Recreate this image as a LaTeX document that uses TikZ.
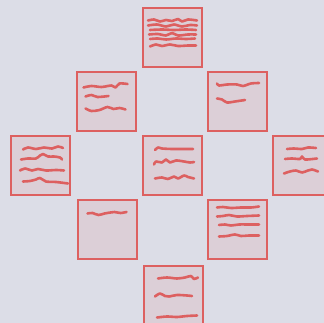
\documentclass[tikz,border=0pt]{standalone}
\usepackage{xcolor}
\usepackage{tikz}
\definecolor{bgpaper}{RGB}{220,221,231}
\definecolor{cardfill}{RGB}{220,207,215}
\definecolor{ink}{RGB}{221,96,96}
\tikzset{
  card/.style={draw=ink,fill=cardfill,line width=2pt,minimum size=59pt,inner sep=0pt},
  scribble/.style={draw=ink,line width=2.6pt,line cap=round,line join=round}
}
\begin{document}
\begin{tikzpicture}[x=1pt,y=-1pt]
\fill[bgpaper] (0,0) rectangle (324,323);
\useasboundingbox (0,0) rectangle (324,323);

\node[card] (top) at (172.5,38) {};
\node[card] (upl) at (106,102) {};
\node[card] (upr) at (237.5,102) {};
\node[card] (left) at (40.5,166) {};
\node[card] (mid) at (172.5,166) {};
\node[card] (right) at (302.5,166) {};
\node[card] (lowl) at (107,230) {};
\node[card] (lowr) at (237.5,230) {};
\node[card] (bottom) at (173.5,295) {};

% top
\scope[shift={(top.north west)}]
\draw[scribble] plot[smooth] coordinates {(6,13) (12,12) (18,14) (24,12.5) (30,13.5) (36,11.5) (40,14) (46,12) (55,13)};
\draw[scribble] plot[smooth] coordinates {(6,18) (15,17) (24,19) (32,17) (40,19) (48,17.5) (55,18)};
\draw[scribble] plot[smooth] coordinates {(8,22.5) (20,22) (32,22.5) (44,22) (54,22.5)};
\draw[scribble] plot[smooth] coordinates {(7,27) (16,26.5) (24,28) (30,25.5) (36,28) (46,27) (54,27)};
\draw[scribble] plot[smooth] coordinates {(8,31.5) (16,31) (24,32) (34,31) (44,31.5) (53,31)};
\draw[scribble] plot[smooth] coordinates {(8,39) (14,37) (20,38.5) (28,37) (36,38.5) (46,38) (54,38)};
\endscope

% upper left
\scope[shift={(upl.north west)}]
\draw[scribble] plot[smooth] coordinates {(8,16) (16,14.5) (26,15.5) (36,14) (40,16) (44,12) (52,12.5)};
\draw[scribble] plot[smooth] coordinates {(10,25) (16,23.5) (22,25.5) (33,24.5)};
\draw[scribble] plot[smooth] coordinates {(10,37) (16,39.5) (24,38.5) (32,35.5) (38,37.5) (44,36.5) (50,38)};
\endscope

% upper right
\scope[shift={(upr.north west)}]
\draw[scribble] plot[smooth] coordinates {(10,12) (12,14) (20,13) (30,13) (36,14.5) (44,12) (52,11.5)};
\draw[scribble] plot[smooth] coordinates {(10,27) (15,28) (20,31) (28,30) (38,28.5)};
\endscope

% left
\scope[shift={(left.north west)}]
\draw[scribble] plot[smooth] coordinates {(13,14) (18,12) (26,13.5) (34,12) (42,13) (48,11) (53,12.5)};
\draw[scribble] plot[smooth] coordinates {(11,24) (18,23) (26,23) (30,20) (33,18.5) (38,21) (44,21) (50,22) (52,24)};
\draw[scribble] plot[smooth] coordinates {(10,35) (15,33) (22,35) (28,33.5) (36,35) (46,34.5) (54,35)};
\draw[scribble] plot[smooth] coordinates {(13,46) (20,45.5) (26,44) (30,42.5) (36,46) (46,46.5) (58,48)};
\endscope

% middle
\scope[shift={(mid.north west)}]
\draw[scribble] plot[smooth] coordinates {(13,14.5) (16,12) (20,13) (30,13.5) (42,13.5) (51,13.5)};
\draw[scribble] plot[smooth] coordinates {(12,29) (14,26) (20,27) (24,24) (28,27) (34,25) (42,26) (48,27) (52,26.5)};
\draw[scribble] plot[smooth] coordinates {(13,43) (20,42) (26,43.5) (32,41) (36,43) (42,40) (46,41.5) (52,43)};
\endscope

% right
\scope[shift={(right.north west)}]
\draw[scribble] plot[smooth] coordinates {(15,13.5) (22,13) (30,13.5) (36,12) (44,12.5)};
\draw[scribble] plot[smooth] coordinates {(13,23.5) (20,23) (28,23.5) (30,21) (33,24) (45,23)};
\draw[scribble] plot[smooth] coordinates {(12,38) (18,36) (24,35) (30,37) (36,35) (40,34) (46,36)};
\endscope

% lower left
\scope[shift={(lowl.north west)}]
\draw[scribble] plot[smooth] coordinates {(11,14) (16,13.5) (22,15.5) (28,14) (34,13) (38,12.5) (44,13.5) (50,12.5)};
\endscope

% lower right
\scope[shift={(lowr.north west)}]
\draw[scribble] plot[smooth] coordinates {(10,8) (16,7.5) (24,8.5) (34,8) (44,8) (52,7)};
\draw[scribble] plot[smooth] coordinates {(10,17) (16,16.5) (22,15.5) (30,17) (40,16.5) (52,16)};
\draw[scribble] plot[smooth] coordinates {(12,25.5) (18,25) (24,26) (32,25) (42,25) (52,25)};
\draw[scribble] plot[smooth] coordinates {(12,37) (20,36.5) (28,35) (34,36.5) (42,36) (52,36)};
\endscope

% bottom
\scope[shift={(bottom.north west)}]
\draw[scribble] plot[smooth] coordinates {(15,14) (24,13) (34,14) (42,13) (48,11.5) (51,14.5) (55,13)};
\draw[scribble] plot[smooth] coordinates {(12,32) (17,29) (22,31.5) (26,32) (34,30.5) (44,31) (49,31.5)};
\draw[scribble] plot[smooth] coordinates {(14,53) (24,52) (34,52.5) (44,51.5) (54,51)};
\endscope
\end{tikzpicture}
\end{document}
